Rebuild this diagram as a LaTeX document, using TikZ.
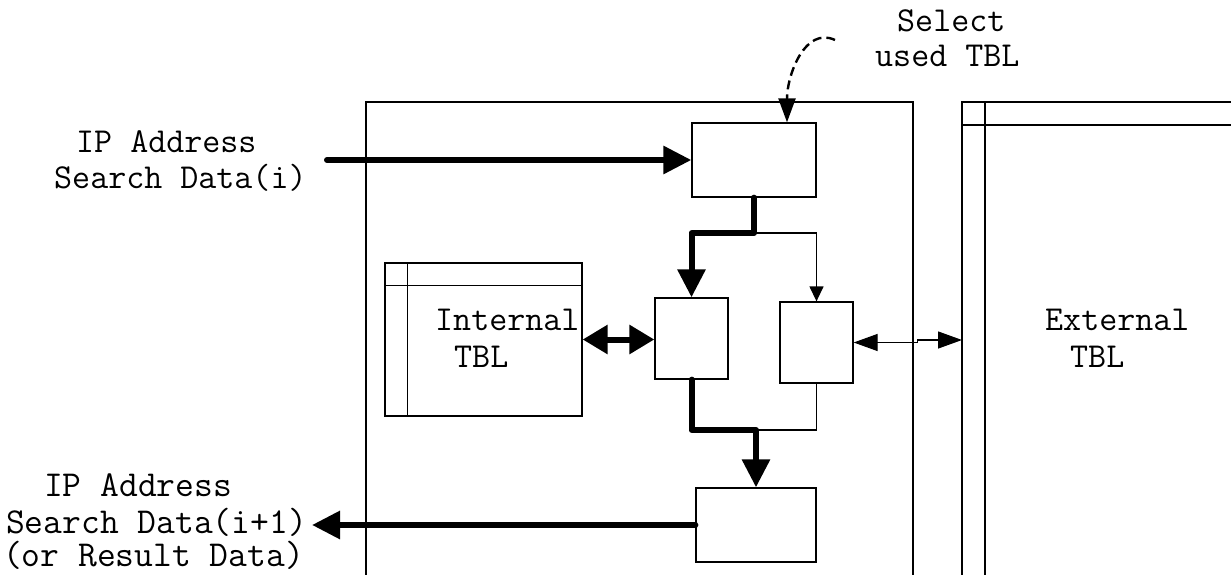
\documentclass[tikz,border=0pt]{standalone}
\usetikzlibrary{arrows.meta}

\tikzset{
  unit/.style={x=1pt,y=-1pt},
  frame/.style={line width=1.3pt, line join=miter},
  blk/.style={draw, line width=1.3pt, inner sep=0pt},
  lbl/.style={anchor=base west, inner sep=0pt, font=\ttfamily\fontsize{35}{40}\selectfont},
  lblbig/.style={lbl, font=\ttfamily\fontsize{36.5}{40}\selectfont},
  bus/.style={line width=6pt, line cap=round, line join=round, -{Triangle[length=28pt,width=27pt]}},
  busx/.style={line width=6pt, {Triangle[length=25pt,width=28pt]}-{Triangle[length=25pt,width=28pt]}},
  sig/.style={line width=1.3pt, -{Triangle[length=15pt,width=14pt]}},
  sigx/.style={line width=1.3pt, {Triangle[length=24pt,width=17pt]}-{Triangle[length=24pt,width=17pt]}},
  ctl/.style={line width=2.4pt, dash pattern=on 9pt off 5pt, -{Triangle[length=24pt,width=17pt]}}
}

\begin{document}
\begin{tikzpicture}[unit]
\useasboundingbox (0,0) rectangle (1231,575);

% chip outline (continues below the page edge)
\draw[frame] (366,575) -- (366,102) -- (913,102) -- (913,575);

% external table
\draw[frame] (962,575) -- (962,102) -- (1231,102);
\draw[frame] (985,575) -- (985,102);
\draw[frame] (962,125) -- (1231,125);

% internal table
\node[blk, minimum width=197pt, minimum height=153pt] (itbl) at (483.5,339.5) {};
\draw[frame] (itbl.north west) ++(23,0) -- ++(0,153);
\draw[frame] (itbl.north west) ++(0,23) -- ++(197,0);

% processing blocks
\node[blk, minimum width=124pt, minimum height=74pt] (sel) at (754,160) {};
\node[blk, minimum width=73pt, minimum height=81pt] (ilk) at (691.5,338.5) {};
\node[blk, minimum width=73pt, minimum height=81pt] (elk) at (816.5,342.5) {};
\node[blk, minimum width=120pt, minimum height=74pt] (res) at (756,525) {};

% labels
\node[lbl] (in1) at (76,153) {IP Address};
\node[lbl] (in2) at (54,188) {Search Data(i)};
\node[lbl] (sl1) at (897,32) {Select};
\node[lbl] (sl2) at (875,67) {used TBL};
\node[lbl] (it1) at (435,330) {Internal};
\node[lbl] (it2) at (454,367) {TBL};
\node[lbl] (et1) at (1045,330) {External};
\node[lbl] (et2) at (1070,367) {TBL};
\node[lblbig] (ou1) at (44,496) {IP Address};
\node[lblbig] (ou2) at (6,533) {Search Data(i+1)};
\node[lblbig] (ou3) at (3,566) {(or Result Data)};

% connector end points
\coordinate (inbeg) at (327,160);
\coordinate (outend) at (312,525);
\coordinate (split) at (754,233);
\coordinate (merge) at (756,430);
\coordinate (extin) at (962,340);
\coordinate (selsrc) at (835,40);

% data path
\draw[bus] (inbeg) -- (sel.west);
\draw[bus] (sel.south) -- (split) -| (ilk.north);
\draw[sig] (split) -| (elk.north);
\draw[busx] (itbl.east) -- (itbl.east -| ilk.west);
\draw[sigx] (elk.east) -- ++(64,0) |- (extin);
\draw[bus] (ilk.south) |- (merge) -- (res.north);
\draw[line width=1.3pt] (elk.south) |- (merge);
\draw[bus] (res.west) -- (outend);

% table select control
\draw[ctl] (selsrc) .. controls (805,26) and (787,75) .. ([xshift=33pt]sel.north);
\end{tikzpicture}
\end{document}
